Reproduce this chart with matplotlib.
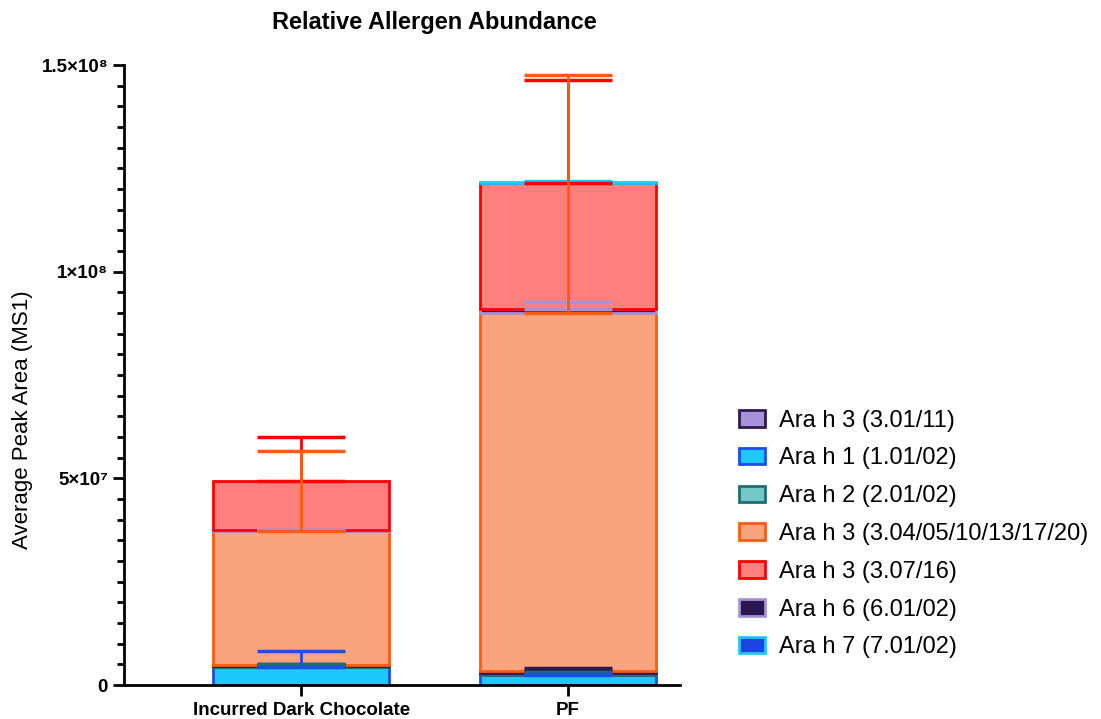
import matplotlib
matplotlib.use("Agg")
import matplotlib.pyplot as plt
from matplotlib.patches import Patch
from matplotlib.ticker import MultipleLocator

plt.rcParams['font.family'] = ['Liberation Sans', 'DejaVu Sans']

groups = ['Incurred Dark Chocolate', 'PF']

# stacking order, bottom to top
series = ['Ara h 1 (1.01/02)', 'Ara h 2 (2.01/02)', 'Ara h 3 (3.01/11)',
          'Ara h 3 (3.04/05/10/13/17/20)', 'Ara h 6 (6.01/02)',
          'Ara h 3 (3.07/16)', 'Ara h 7 (7.01/02)']
values = {
    'Ara h 1 (1.01/02)':             [4.3e6, 2.4e6],
    'Ara h 2 (2.01/02)':             [0.3e6, 0.5e6],
    'Ara h 3 (3.01/11)':             [0.3e6, 0.5e6],
    'Ara h 3 (3.04/05/10/13/17/20)': [3.24e7, 8.66e7],
    'Ara h 6 (6.01/02)':             [0.2e6, 1.0e6],
    'Ara h 3 (3.07/16)':             [1.18e7, 3.04e7],
    'Ara h 7 (7.01/02)':             [0.0, 0.3e6],
}
errors = {
    'Ara h 1 (1.01/02)':             [3.9e6, 0.2e6],
    'Ara h 2 (2.01/02)':             [0.5e6, 0.3e6],
    'Ara h 3 (3.01/11)':             [0.2e6, 0.7e6],
    'Ara h 3 (3.04/05/10/13/17/20)': [1.93e7, 5.77e7],
    'Ara h 6 (6.01/02)':             [0.1e6, 1.7e6],
    'Ara h 3 (3.07/16)':             [1.07e7, 2.49e7],
    'Ara h 7 (7.01/02)':             [0.0, 0.2e6],
}
fills = {
    'Ara h 1 (1.01/02)': '#1ec8ff',
    'Ara h 2 (2.01/02)': '#72c8c8',
    'Ara h 3 (3.01/11)': '#a692d8',
    'Ara h 3 (3.04/05/10/13/17/20)': '#f9a47f',
    'Ara h 6 (6.01/02)': '#2a1650',
    'Ara h 3 (3.07/16)': '#ff7f7f',
    'Ara h 7 (7.01/02)': '#1a44e0',
}
edges = {
    'Ara h 1 (1.01/02)': '#1a4fe0',
    'Ara h 2 (2.01/02)': '#1f6e72',
    'Ara h 3 (3.01/11)': '#2e1a4f',
    'Ara h 3 (3.04/05/10/13/17/20)': '#ff5a14',
    'Ara h 6 (6.01/02)': '#a692d8',
    'Ara h 3 (3.07/16)': '#ff0000',
    'Ara h 7 (7.01/02)': '#1ec8ff',
}
legend_order = ['Ara h 3 (3.01/11)', 'Ara h 1 (1.01/02)', 'Ara h 2 (2.01/02)',
                'Ara h 3 (3.04/05/10/13/17/20)', 'Ara h 3 (3.07/16)',
                'Ara h 6 (6.01/02)', 'Ara h 7 (7.01/02)']

fig = plt.figure(figsize=(11.01, 7.19), dpi=100)
ax = fig.add_axes([124/1101, 1-685/719, (680-124)/1101, (685-65)/719])

x = [0, 1]
bottom = [0.0, 0.0]
for k, s in enumerate(series):
    v = values[s]
    for i in range(len(x)):
        if v[i] == 0:
            continue
        ax.bar(x[i], v[i], width=0.66, bottom=bottom[i], color=fills[s],
               edgecolor=edges[s], linewidth=2, zorder=2)
        ax.errorbar(x[i], bottom[i] + v[i], yerr=[[0], [errors[s][i]]],
                    fmt='none', ecolor=edges[s], elinewidth=2, capsize=32,
                    capthick=2.5, zorder=4 - k * 0.1)
    bottom = [b + h for b, h in zip(bottom, v)]

ax.set_xlim(-0.665, 1.42)
ax.set_ylim(0, 1.5e8)
ax.set_xticks(x)
ax.set_xticklabels(groups, fontsize=13.5, fontweight='bold')
ax.set_yticks([0, 5e7, 1e8, 1.5e8])
ax.set_yticklabels(['0', '5×10⁷', '1×10⁸', '1.5×10⁸'],
                   fontsize=13.5, fontweight='bold')
ax.yaxis.set_minor_locator(MultipleLocator(5e6))
ax.tick_params(axis='both', which='major', length=8, width=2, direction='out')
ax.tick_params(axis='y', which='minor', length=5, width=2)
ax.tick_params(axis='x', pad=4)
for sp in ['top', 'right']:
    ax.spines[sp].set_visible(False)
for sp in ['left', 'bottom']:
    ax.spines[sp].set_linewidth(2)

ax.set_ylabel('Average Peak Area (MS1)', fontsize=16)
ax.yaxis.set_label_coords((33 - 124) / 556, (685 - 420) / 620)
fig.text(434/1101, 1-22/719, 'Relative Allergen Abundance', ha='center',
         va='center', fontsize=17, fontweight='bold')

handles = [Patch(facecolor=fills[s], edgecolor=edges[s], linewidth=2,
                 label=s) for s in legend_order]
fig.legend(handles=handles, loc='center left',
           bbox_to_anchor=(718/1101, 1-534/719), frameon=False,
           fontsize=17, handlelength=1.1, handleheight=0.7,
           labelspacing=0.67, handletextpad=0.6)

fig.savefig('out.png', dpi=100)
